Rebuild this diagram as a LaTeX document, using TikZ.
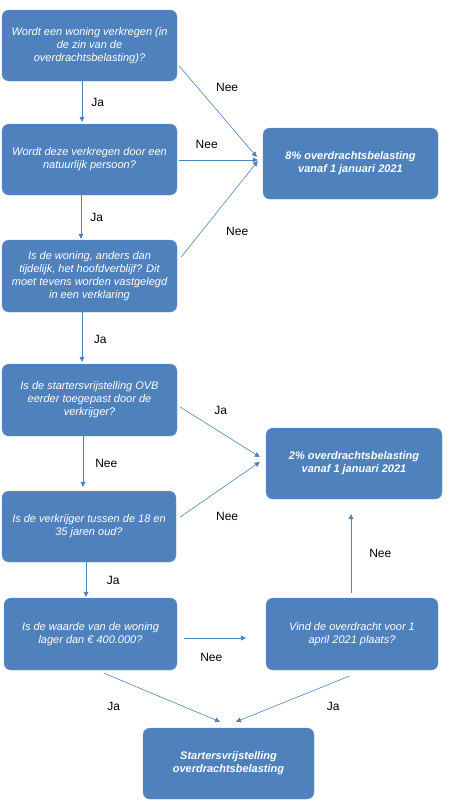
\documentclass[tikz,border=0pt]{standalone}
\usepackage{fontspec}
\setmainfont{Liberation Sans}
\usepackage{tikz}
\usetikzlibrary{arrows.meta,positioning,calc}
\definecolor{boxblue}{HTML}{4F81BD}
\definecolor{edgeblue}{HTML}{6A96CB}
\tikzset{
  % Question boxes
  ques/.style={draw=edgeblue,fill=boxblue,rounded corners=7pt,minimum width=175pt,
               minimum height=71pt,align=center,text=white,inner sep=2pt,
               font=\fontsize{11}{13}\selectfont\itshape},
  % Outcome boxes
  res/.style={ques,font=\fontsize{11}{13}\selectfont\bfseries\itshape},
  % Connectors & labels
  arr/.style={-{Triangle[length=5pt,width=5pt]},boxblue,semithick},
  arrlb/.style={font=\fontsize{12}{14}\selectfont,text=black,inner sep=0pt}
}

\begin{document}
\begin{tikzpicture}[x=1pt,y=-1pt]
  \useasboundingbox (0,0) rectangle (449,812);

  % Question column
  \node[ques] (q1) at (89.5,45.5) {Wordt een woning verkregen (in\\de zin van de\\overdrachtsbelasting)?};
  \node[ques] (q2) at (89.5,159.5) {Wordt deze verkregen door een\\natuurlijk persoon?};
  \node[ques,minimum height=72pt] (q3) at (89.5,276) {Is de woning, anders dan\\tijdelijk, het hoofdverblijf? Dit\\moet tevens worden vastgelegd\\in een verklaring};
  \node[ques,minimum height=72pt] (q4) at (89.5,400) {Is de startersvrijstelling OVB\\eerder toegepast door de\\verkrijger?};
  \node[ques,minimum width=174pt] (q5) at (89,526.5) {Is de verkrijger tussen de 18 en\\35 jaren oud?};
  \node[ques,minimum width=173pt,minimum height=72pt] (q6) at (90.5,634) {Is de waarde van de woning\\lager dan € 400.000?};
  \node[ques,minimum width=172pt,minimum height=72pt] (q7) at (352,634) {Vind de overdracht voor 1\\april 2021 plaats?};

  % Outcomes
  \node[res] (r8) at (350.5,163.5) {8\% overdrachtsbelasting\\vanaf 1 januari 2021};
  \node[res,minimum width=176pt] (r2) at (354,463.5) {2\% overdrachtsbelasting\\vanaf 1 januari 2021};
  \node[res,minimum width=171pt] (rvr) at (228.5,763.5) {Startersvrijstelling\\overdrachtsbelasting};

  % Ja down the column
  \draw[arr,shorten >=2pt] ([xshift=-7.5pt]q1.south) -- node[midway,right=9pt,arrlb] {Ja} ([xshift=-7.5pt]q2.north);
  \draw[arr,shorten >=1pt] ([xshift=-8.5pt]q2.south) -- node[midway,right=9pt,arrlb] {Ja} ([xshift=-8.5pt]q3.north);
  \draw[arr,shorten >=2pt] ([xshift=-7.5pt]q3.south) -- node[pos=0.52,right=11.5pt,arrlb] {Ja} ([xshift=-7.5pt]q4.north);
  \draw[arr,shorten >=4pt] ([xshift=-6.5pt]q4.south) -- node[midway,right=12pt,arrlb] {Nee} ([xshift=-6pt]q5.north);
  \draw[arr,shorten >=1pt] ([xshift=-3pt]q5.south) -- node[midway,right=20.5pt,arrlb] {Ja} ([xshift=-4.5pt]q6.north);

  % Nee to 8%
  \draw[arr] ([shift={(2pt,-20.5pt)}]q1.east) -- node[pos=0.24,right=18pt,arrlb] {Nee} ([shift={(-6pt,6.5pt)}]r8.west);
  \draw[arr] ([shift={(2pt,-0.5pt)}]q2.east) -- node[pos=0.35,above=11pt,arrlb] {Nee} ([shift={(-5pt,3.5pt)}]r8.west);
  \draw[arr] ([shift={(4pt,19pt)}]q3.east) -- node[pos=0.27,right=24pt,arrlb] {Nee} ([shift={(-5pt,2.5pt)}]r8.west);

  % To 2%
  \draw[arr] ([shift={(3pt,-7pt)}]q4.east) -- node[pos=0.51,above=18pt,arrlb] {Ja} ([shift={(-6pt,6.5pt)}]r2.west);
  \draw[arr] ([shift={(4pt,9.5pt)}]q5.east) -- node[pos=0.59,below=27pt,arrlb] {Nee} ([shift={(-6pt,1.5pt)}]r2.west);
  \draw[arr] ([shift={(-1pt,5pt)}]q7.north) -- node[midway,right=18pt,arrlb] {Nee} ([shift={(-3pt,-15pt)}]r2.south);

  % Bottom part
  \draw[arr] ([shift={(7pt,-4pt)}]q6.east) -- node[pos=0.44,below=14.5pt,arrlb] {Nee} ([shift={(-20pt,-4pt)}]q7.west);
  \draw[arr] ([shift={(13.5pt,-3pt)}]q6.south) -- node[pos=0.3,xshift=-25pt,yshift=-19pt,arrlb] {Ja} ([shift={(-8.5pt,6pt)}]rvr.north);
  \draw[arr] ([shift={(-3pt,-6pt)}]q7.south) -- node[pos=0.3,xshift=18pt,yshift=-17pt,arrlb] {Ja} ([shift={(7.5pt,6pt)}]rvr.north);
\end{tikzpicture}
\end{document}
